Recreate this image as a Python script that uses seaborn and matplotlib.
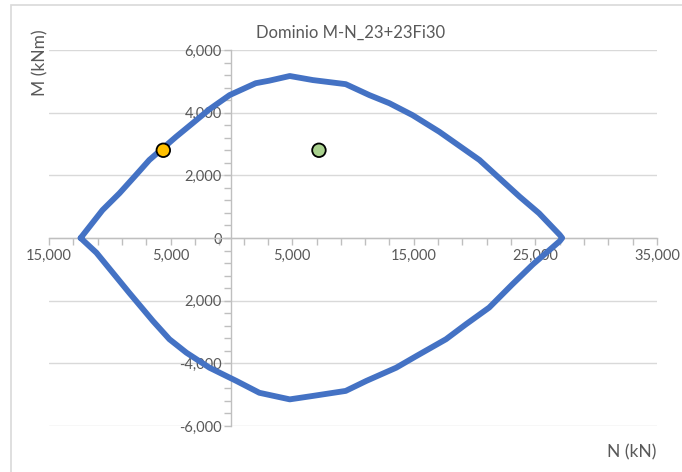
import numpy as np
import matplotlib
matplotlib.use('Agg')
import matplotlib.pyplot as plt
import seaborn as sns
from matplotlib.patches import Rectangle
from matplotlib.ticker import FixedLocator, MultipleLocator

# M-N interaction domain (upper branch, then lower branch back)
n_upper = [-12400, -10600, -9200, -7850, -6750, -4550, -3200, -1800, -150, 2000, 3100, 4800,
           6700, 9400, 11350, 13000, 14900, 17100, 18750, 20400, 21750, 23700, 25300, 27000, 27200]
m_upper = [0, 890, 1430, 2010, 2490, 3230, 3660, 4110, 4560, 4940, 5020, 5170,
           5040, 4910, 4560, 4300, 3920, 3390, 2940, 2490, 2010, 1320, 790, 100, 0]
n_lower = [27000, 24800, 23100, 21200, 19300, 17650, 15200, 13550, 11100, 9400, 6700, 4800,
           2300, 400, -1800, -3700, -5100, -6450, -8400, -9750, -11100, -12400]
m_lower = [-100, -840, -1480, -2220, -2750, -3230, -3770, -4140, -4560, -4880, -5040, -5150,
           -4940, -4560, -4140, -3660, -3230, -2650, -1750, -1110, -470, 0]

# design points
pt_n = [-5600, 7200]
pt_m = [2800, 2800]
pt_colors = ['#FFC000', '#A9D18E']

x_ticks = [-15000, -5000, 5000, 15000, 25000, 35000]
x_labels = ['15,000', '5,000', '5,000', '15,000', '25,000', '35,000']
y_ticks = [-6000, -4000, -2000, 0, 2000, 4000, 6000]
y_labels = ['-6,000', '-4,000', '2,000', '0', '2,000', '4,000', '6,000']

sns.set_theme(style='white')
plt.rcParams['font.family'] = ['Lato', 'DejaVu Sans']

grey_txt = '#595959'
axis_col = '#BFBFBF'

fig = plt.figure(figsize=(6.82, 4.72), dpi=100)
ax = fig.add_axes([49 / 682, 1 - 426 / 472, 608 / 682, 376 / 472])

# chart border like the spreadsheet frame
fig.patches.append(Rectangle((11 / 682, -0.05), 1.0, 1 - 5 / 472 + 0.05, transform=fig.transFigure,
                             fill=False, edgecolor='#D9D9D9', lw=1.2))

n_all = n_upper + n_lower
m_all = m_upper + m_lower
sns.lineplot(x=n_all, y=m_all, sort=False, estimator=None, color='#4472C4', lw=4.2, ax=ax,
             zorder=3, solid_joinstyle='round', solid_capstyle='round')
sns.scatterplot(x=pt_n, y=pt_m, hue=pt_n, palette=pt_colors, s=95, edgecolor='black',
                linewidth=1.3, legend=False, ax=ax, zorder=4)

ax.set_xlim(-15000, 35000)
ax.set_ylim(-6000, 6000)

ax.spines['left'].set_position(('data', 0))
ax.spines['bottom'].set_position(('data', 0))
ax.spines['top'].set_visible(False)
ax.spines['right'].set_visible(False)
for s in ['left', 'bottom']:
    ax.spines[s].set_color(axis_col)
    ax.spines[s].set_linewidth(1)

ax.xaxis.set_major_locator(FixedLocator(x_ticks))
ax.xaxis.set_minor_locator(FixedLocator(list(range(-15000, 35001, 2000))))
ax.set_xticklabels(x_labels)
ax.yaxis.set_major_locator(FixedLocator(y_ticks))
ax.yaxis.set_minor_locator(MultipleLocator(400))
ax.set_yticklabels(y_labels)

ax.tick_params(which='both', direction='out', length=5, width=1, color=axis_col,
               bottom=True, left=True, labelcolor=grey_txt, labelsize=10.5)
ax.tick_params(axis='x', pad=3)
ax.tick_params(axis='y', pad=2)

ax.yaxis.grid(True, color='#D9D9D9', lw=1)
ax.xaxis.grid(False)
ax.set_axisbelow(True)

fig.text(351 / 682, 1 - 33 / 472, 'Dominio M-N_23+23Fi30', ha='center', va='center',
         color=grey_txt, fontsize=12)
fig.text(40 / 682, 1 - 29 / 472, 'M (kNm)', rotation=90, ha='center', va='top',
         color=grey_txt, fontsize=12.5)
fig.text(656 / 682, 1 - 452 / 472, 'N (kN)', ha='right', va='center',
         color=grey_txt, fontsize=12.5)

fig.savefig('out.png', dpi=100)
